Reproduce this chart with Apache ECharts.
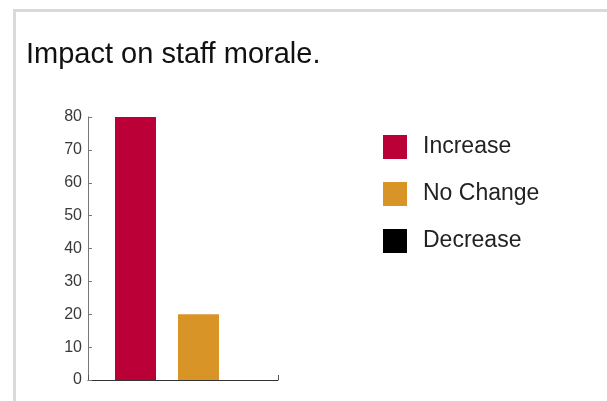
<!DOCTYPE html>
<html>
<head>
<meta charset="utf-8">
<script src="https://cdn.jsdelivr.net/npm/echarts@6/dist/echarts.min.js"></script>
<style>
  html, body { margin: 0; padding: 0; background: #fff; }
  #myChart { width: 607px; height: 401px; }
</style>
</head>
<body>
<div id="myChart"></div>
<script>
var categories = ['Increase', 'No Change', 'Decrease'];
var values = [80, 20, 0];
var colors = ['#ba0036', '#d99428', '#000000'];
var yTicks = [0, 10, 20, 30, 40, 50, 60, 70, 80];

window.onload = function(){
  var myChart = echarts.init(document.getElementById('myChart'));

  // one series per category so the legend lists them
  var series = categories.map(function(name, i){
    var data = categories.map(function(c, j){ return j === i ? values[i] : '-'; });
    return {
      name: name,
      type: 'bar',
      stack: 'all',
      xAxisIndex: 1,
      yAxisIndex: 1,
      barWidth: 41,
      itemStyle: { color: colors[i] },
      data: data
    };
  });

  var option = {
    animation: false,
    title: {
      text: 'Impact on staff morale.',
      left: 26,
      top: 40,
      padding: 0,
      textStyle: {
        fontFamily: 'Liberation Sans',
        fontSize: 29,
        fontWeight: 'normal',
        color: '#111'
      }
    },
    legend: {
      orient: 'vertical',
      left: 383,
      top: 135,
      padding: 0,
      icon: 'rect',
      itemWidth: 24,
      itemHeight: 24,
      itemGap: 23,
      textStyle: {
        fontFamily: 'Liberation Sans',
        fontSize: 23,
        color: '#222',
        padding: [3, 0, 0, 11]
      },
      data: categories
    },
    graphic: [
      { type: 'rect', shape: { x: 13, y: 9, width: 594, height: 3 }, style: { fill: '#d9d9d9' } },
      { type: 'rect', shape: { x: 13, y: 9, width: 3, height: 392 }, style: { fill: '#d9d9d9' } }
    ],
    grid: [
      { left: 88, top: 117, width: 190, height: 263 },
      { left: 104, top: 117, width: 189, height: 263 }
    ],
    xAxis: [
      {
        gridIndex: 0,
        type: 'value',
        min: 0,
        max: 1,
        interval: 1,
        axisLine: { show: true, lineStyle: { color: '#333', width: 1 } },
        axisTick: { show: true, inside: true, length: 5, lineStyle: { color: '#555' } },
        axisLabel: { show: false },
        splitLine: { show: false }
      },
      {
        gridIndex: 1,
        type: 'category',
        data: categories,
        show: false
      }
    ],
    yAxis: [
      {
        gridIndex: 0,
        type: 'value',
        min: yTicks[0],
        max: yTicks[yTicks.length - 1],
        interval: yTicks[1] - yTicks[0],
        axisLine: { show: true, lineStyle: { color: '#777', width: 1 } },
        axisTick: { show: true, inside: true, length: 4, lineStyle: { color: '#777' } },
        axisLabel: {
          margin: 6,
          fontFamily: 'Liberation Sans',
          fontSize: 16,
          color: '#3a3a3a'
        },
        splitLine: { show: false }
      },
      {
        gridIndex: 1,
        type: 'value',
        min: yTicks[0],
        max: yTicks[yTicks.length - 1],
        show: false
      }
    ],
    series: series
  };
  myChart.setOption(option);
};
</script>
</body>
</html>
